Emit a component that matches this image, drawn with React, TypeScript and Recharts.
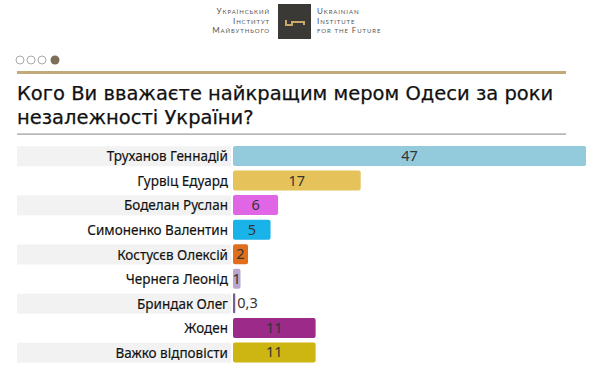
import React from "react";
import { BarChart, Bar, XAxis, YAxis, Cell, LabelList } from "recharts";

const categories = [
  "Труханов Геннадій",
  "Гурвіц Едуард",
  "Боделан Руслан",
  "Симоненко Валентин",
  "Костусєв Олексій",
  "Чернега Леонід",
  "Бриндак Олег",
  "Жоден",
  "Важко відповісти",
];
const values = [47, 17, 6, 5, 2, 1, 0.3, 11, 11];
const colors = [
  "#93cbdd",
  "#e6c25a",
  "#e066e6",
  "#19b3ea",
  "#df6f1c",
  "#b9a5cf",
  "#76608f",
  "#9c2a88",
  "#cdb611",
];
const titleLines = [
  "Кого Ви вважаєте найкращим мером Одеси за роки",
  "незалежності України?",
];
const logoLeft = ["Український", "Інститут", "Майбутнього"];
const logoRight = ["Ukrainian", "Institute", "for the Future"];

const data = categories.map((name, i) => ({ name, value: values[i], color: colors[i] }));

const FONT = "'Noto Sans', 'DejaVu Sans', sans-serif";

const Tick = (props: any) => {
  const { x, y, payload, index } = props;
  return (
    <g>
      {index % 2 === 0 && (
        <rect x={x - 211} y={y - 10} width={214} height={20} fill="#f2f2f2" />
      )}
      <text x={x} y={y} dy={5} textAnchor="end" fontSize={13.5} fill="#111" fontFamily={FONT} stroke="#111" strokeWidth={0.15}>
        {payload.value}
      </text>
    </g>
  );
};

const ValueLabel = (props: any) => {
  const { x, y, width, height, value } = props;
  const txt = String(value).replace(".", ",");
  if (value < 0.5) {
    return (
      <text x={x + width + 2} y={y + height / 2} dy={5} textAnchor="start" fontSize={14.5} fill="#333" fontFamily={FONT}>
        {txt}
      </text>
    );
  }
  return (
    <text x={x + width / 2} y={y + height / 2} dy={5} textAnchor="middle" fontSize={14.5} fill="#333" fontFamily={FONT}>
      {txt}
    </text>
  );
};

const logoText: React.CSSProperties = {
  position: "absolute",
  top: 7,
  fontFamily: "Lato, sans-serif",
  fontVariant: "small-caps",
  fontSize: 8,
  lineHeight: "9.5px",
  color: "#555",
  letterSpacing: 0.9,
};

const Header = () => (
  <div style={{ position: "absolute", left: 0, top: 0, width: 600, height: 140 }}>
    <div style={{ ...logoText, right: 600 - 270, textAlign: "right" }}>
      {logoLeft.map((t) => (
        <div key={t} style={{ height: 9.5 }}>{t}</div>
      ))}
    </div>
    <div style={{ position: "absolute", left: 278, top: 4, width: 33, height: 35, background: "#3b3936" }}>
      <svg width={33} height={35}>
        <path d="M7 16 h2 v4 h4 v-3 h14 v4 h-2 v-2 h-10 v3 h-8 z" fill="#c9a86a" />
      </svg>
    </div>
    <div style={{ ...logoText, left: 317 }}>
      {logoRight.map((t) => (
        <div key={t} style={{ height: 9.5 }}>{t}</div>
      ))}
    </div>
    <svg style={{ position: "absolute", left: 0, top: 0 }} width={600} height={140}>
      {[20, 31, 42].map((cx) => (
        <circle key={cx} cx={cx} cy={60} r={4} fill="#fff" stroke="#aaa" strokeWidth={1} />
      ))}
      <circle cx={55} cy={60} r={4.5} fill="#7d6e5a" />
      <rect x={17} y={71} width={549} height={3} fill="#c2a97c" />
      <rect x={17} y={133.5} width={549} height={1.2} fill="#999" />
    </svg>
    <div
      style={{
        position: "absolute",
        left: 17,
        top: 82,
        fontFamily: "'DejaVu Sans', sans-serif",
        fontSize: 19.5,
        lineHeight: "24px",
        color: "#111",
        whiteSpace: "nowrap",
        letterSpacing: 0,
        WebkitTextStroke: "0.25px #111",
      }}
    >
      {titleLines.map((t) => (
        <div key={t} style={{ height: 24 }}>{t}</div>
      ))}
    </div>
  </div>
);

export default function App() {
  return (
    <div style={{ position: "absolute", left: 0, top: 0, width: 600, height: 368, background: "#fff", overflow: "hidden" }}>
      <Header />
      <div style={{ position: "absolute", left: 0, top: 144 }}>
        <BarChart
          width={600}
          height={221}
          data={data}
          layout="vertical"
          margin={{ top: 0, right: 14, bottom: 0, left: 17 }}
          barCategoryGap={4}
        >
          <XAxis type="number" domain={[0, 47]} hide />
          <YAxis
            type="category"
            dataKey="name"
            width={216}
            tickLine={false}
            axisLine={false}
            tickSize={0}
            tickMargin={5}
            tick={<Tick />}
            interval={0}
          />
          <Bar dataKey="value" barSize={20} radius={2} isAnimationActive={false}>
            {data.map((d) => (
              <Cell key={d.name} fill={d.color} />
            ))}
            <LabelList dataKey="value" content={<ValueLabel />} />
          </Bar>
        </BarChart>
      </div>
    </div>
  );
}
